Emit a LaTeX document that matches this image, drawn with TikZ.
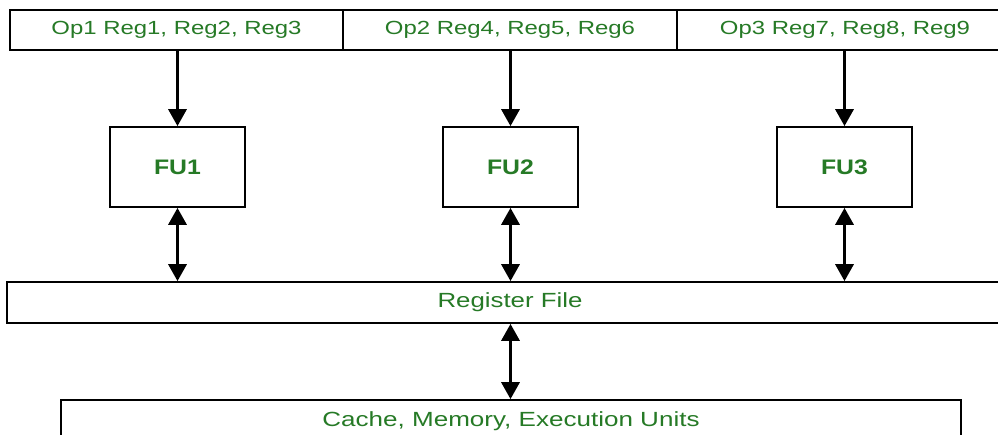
\documentclass[tikz,border=0pt]{standalone}
\usepackage{fontspec}
\setmainfont{Liberation Sans}
\usepackage{graphicx}
\usetikzlibrary{arrows.meta}
\definecolor{txtgreen}{RGB}{38,122,38}
\newcommand{\hstretch}[2]{\scalebox{#1}[1]{#2}}
\tikzset{
  box/.style={draw=black, line width=1.7pt, rectangle, inner sep=0pt, text=txtgreen, fill=white},
  toplbl/.style={font=\fontsize{19}{21}\selectfont},
  midlbl/.style={font=\fontsize{20.5}{23}\selectfont},
  fulbl/.style={font=\fontsize{21}{23}\selectfont\bfseries},
  arr/.style={line width=3.3pt, -{Triangle[length=17pt,width=18pt]}},
  darr/.style={line width=3.3pt, {Triangle[length=17pt,width=18pt]}-{Triangle[length=17pt,width=18pt]}}
}
\begin{document}
\begin{tikzpicture}[x=1pt,y=-1pt]
\useasboundingbox (0,0) rectangle (998,434);
\clip (0,0) rectangle (998,434);
\fill[white] (0,0) rectangle (998,434);
% top instruction boxes
\node[box, toplbl, minimum width=333pt, minimum height=40pt] (op1) at (176.5,30) {\hstretch{1.26}{Op1 Reg1, Reg2, Reg3}};
\node[box, toplbl, minimum width=334pt, minimum height=40pt] (op2) at (510,30) {\hstretch{1.26}{Op2 Reg4, Reg5, Reg6}};
\node[box, toplbl, minimum width=336pt, minimum height=40pt] (op3) at (845,30) {\hstretch{1.26}{Op3 Reg7, Reg8, Reg9}};
% functional units
\node[box, fulbl, minimum width=135pt, minimum height=80pt] (fu1) at (177.5,167) {\hstretch{1.18}{FU1}};
\node[box, fulbl, minimum width=135pt, minimum height=80pt] (fu2) at (510.5,167) {\hstretch{1.18}{FU2}};
\node[box, fulbl, minimum width=135pt, minimum height=80pt] (fu3) at (844.5,167) {\hstretch{1.18}{FU3}};
% register file
\node[box, midlbl, minimum width=1006pt, minimum height=41pt] (rf) at (510,302.5) {\hstretch{1.26}{Register File}};
% cache
\node[box, midlbl, minimum width=900pt, minimum height=42pt] (cache) at (511,421) {\hstretch{1.27}{Cache, Memory, Execution Units}};
% connectors
\draw[arr] (op1.south -| fu1.north) -- (fu1.north);
\draw[arr] (op2.south -| fu2.north) -- (fu2.north);
\draw[arr] (op3.south -| fu3.north) -- (fu3.north);
\draw[darr] (fu1.south) -- (rf.north -| fu1.south);
\draw[darr] (fu2.south) -- (rf.north -| fu2.south);
\draw[darr] (fu3.south) -- (rf.north -| fu3.south);
\draw[darr] (rf.south -| fu2.south) -- (cache.north -| fu2.south);
\end{tikzpicture}
\end{document}
